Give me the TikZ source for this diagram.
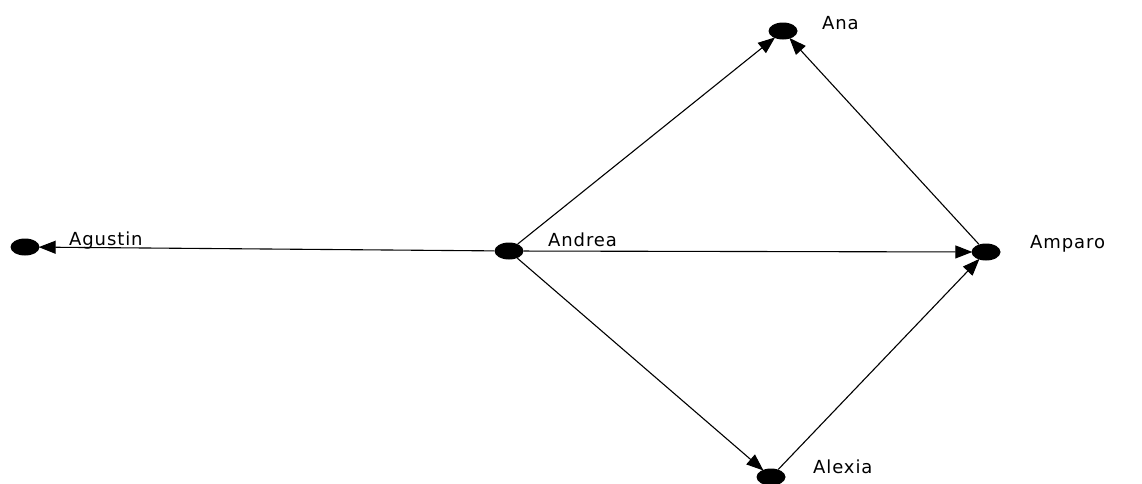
\documentclass[tikz,border=0pt]{standalone}
\usepackage{fontspec}
\setmainfont{DejaVu Sans}[LetterSpace=5]
\usetikzlibrary{arrows.meta,shapes.geometric}
\begin{document}
\begin{tikzpicture}[x=1pt,y=-1pt,
  vertex/.style={ellipse,fill=black,minimum width=29pt,minimum height=17pt,inner sep=0pt},
  lbl/.style={anchor=base west,inner sep=0pt,font=\fontsize{18}{20}\selectfont},
  edge/.style={-{Triangle[length=17pt,width=13pt]},line width=1.1pt,shorten >=-1pt}]
\useasboundingbox (0,0) rectangle (1142,483);
\node[vertex] (agustin) at (25,247) {};
\node[vertex] (andrea) at (509,251) {};
\node[vertex] (ana) at (783,31) {};
\node[vertex] (amparo) at (986,252) {};
\node[vertex] (alexia) at (771,477) {};
\node[lbl] (tagustin) at (69,245) {Agustin};
\node[lbl] (tandrea) at (548,246) {Andrea};
\node[lbl] (tana) at (822,29) {Ana};
\node[lbl] (tamparo) at (1030,248) {Amparo};
\node[lbl] (talexia) at (813,473) {Alexia};
\draw[edge] (andrea) -- (agustin);
\draw[edge] (andrea) -- (ana);
\draw[edge] (amparo) -- (ana);
\draw[edge] (andrea) -- (amparo);
\draw[edge] (andrea) -- (alexia);
\draw[edge] (alexia) -- (amparo);
\end{tikzpicture}
\end{document}
